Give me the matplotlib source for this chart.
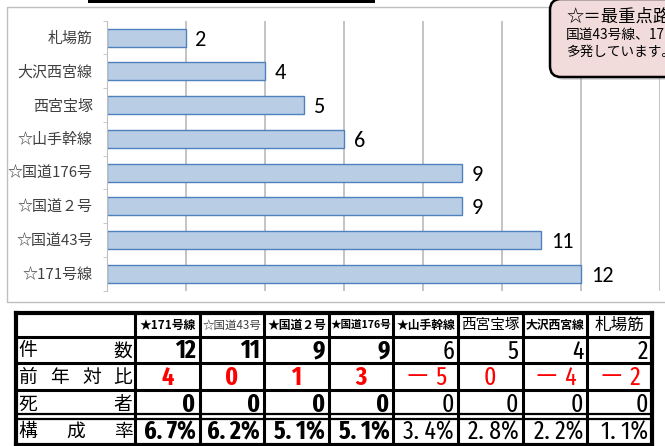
import matplotlib
matplotlib.use('Agg')
import matplotlib.pyplot as plt
from matplotlib.patches import Rectangle, FancyBboxPatch
import numpy as np

plt.rcParams['font.family'] = ['Noto Sans CJK JP', 'DejaVu Sans']

# ---------------- data ----------------
categories = ['☆171号線', '☆国道43号', '☆国道２号', '☆国道176号', '☆山手幹線', '西宮宝塚', '大沢西宮線', '札場筋']
counts = [12, 11, 9, 9, 6, 5, 4, 2]
table_headers = ['★171号線', '☆国道43号', '★国道２号', '★国道176号', '★山手幹線', '西宮宝塚', '大沢西宮線', '札場筋']
yoy_change = [4, 0, 1, 3, -5, 0, -4, -2]
deaths = [0, 0, 0, 0, 0, 0, 0, 0]
share_pct = [6.7, 6.2, 5.1, 5.1, 3.4, 2.8, 2.2, 1.1]
row_labels = ['件数', '前年対比', '死者', '構成率']
note_title = '☆＝最重点路線'
note_lines = ['国道43号線、171号線等で事故が', '多発しています。']
x_gridticks = [0, 2, 4, 6, 8, 10, 12, 14]

W, H = 665, 446
fig = plt.figure(figsize=(W / 100, H / 100), dpi=100)

# ---------------- background (chart frame) ----------------
bg = fig.add_axes([0, 0, 1, 1], zorder=0)
bg.set_xlim(0, W); bg.set_ylim(H, 0); bg.axis('off')
bg.add_patch(Rectangle((7, 6.5), 680, 295.5, facecolor='white', edgecolor='#BFBFBF', lw=1))
bg.add_patch(Rectangle((88, -3), 287, 5.5, facecolor='black', edgecolor='none'))

# ---------------- bar chart ----------------
ax = fig.add_axes([106.7 / W, 1 - 290.7 / H, 553.3 / W, 270 / H], zorder=1)
ax.patch.set_alpha(0)
ypos = np.arange(len(categories))
ax.barh(ypos, counts, height=0.53, color='#B9CDE5', edgecolor='#4F81BD', lw=1, zorder=2)
ax.set_xlim(0, 14)
ax.set_ylim(-0.5, len(categories) - 0.5)
ax.set_xticks(x_gridticks)
ax.xaxis.grid(True, color='#BFBFBF', lw=1.3)
ax.set_axisbelow(True)
ax.tick_params(axis='x', length=0, labelbottom=False)
for s in ['top', 'right', 'bottom']:
    ax.spines[s].set_visible(False)
ax.spines['left'].set_color('#BFBFBF')
ax.set_yticks(ypos)
ax.set_yticklabels(categories, fontsize=10.8, color='#404040')
ax.tick_params(axis='y', which='major', length=0, pad=10)
ax.set_yticks(np.arange(-0.5, len(categories), 1), minor=True)
ax.tick_params(axis='y', which='minor', length=3, color='#BFBFBF', direction='out')
for y, v in zip(ypos, counts):
    ax.annotate(str(v), (v, y), xytext=(7, -1.5), textcoords='offset points',
                va='center', ha='left', fontsize=16, family=['Carlito', 'DejaVu Sans'], color='black')

# ---------------- overlay: callout + table ----------------
ov = fig.add_axes([0, 0, 1, 1], zorder=3)
ov.patch.set_alpha(0)
ov.set_xlim(0, W); ov.set_ylim(H, 0); ov.axis('off')

ov.add_patch(FancyBboxPatch((553, 2), 150, 78, boxstyle='round,pad=0,rounding_size=11',
                            facecolor='#999999', edgecolor='none', alpha=0.35))
ov.add_patch(FancyBboxPatch((550, -1), 150, 78, boxstyle='round,pad=0,rounding_size=11',
                            facecolor='#F2DCDB', edgecolor='black', lw=1.8))
ov.text(566, 17, note_title, fontsize=12.5, va='center', ha='left', color='black')
ov.text(566, 34.5, note_lines[0], fontsize=9.9, va='center', ha='left', color='black')
ov.text(566, 52, note_lines[1], fontsize=9.8, va='center', ha='left', color='black')

# table geometry
tx0, tx1 = 16, 135
colw = 64.6
col_edges = [tx0, tx1] + [tx1 + colw * (i + 1) for i in range(len(table_headers))]
row_edges = [313, 336.5, 363, 390, 416.5, 445]

ov.add_patch(Rectangle((col_edges[0], row_edges[0]), col_edges[-1] - col_edges[0],
                       row_edges[-1] - row_edges[0], facecolor='white', edgecolor='none'))
for x in col_edges:
    lw = 3 if x in (col_edges[0], col_edges[-1]) else 2.2
    ov.plot([x, x], [row_edges[0], row_edges[-1]], color='black', lw=lw, solid_capstyle='projecting')
for i, y in enumerate(row_edges):
    if i == 4:
        ov.plot([col_edges[0], col_edges[-1]], [y - 2.6, y - 2.6], color='black', lw=1.6)
        ov.plot([col_edges[0], col_edges[-1]], [y + 2.2, y + 2.2], color='black', lw=1.6)
    else:
        lw = 3 if i in (0, len(row_edges) - 1) else 2.2
        ov.plot([col_edges[0], col_edges[-1]], [y, y], color='black', lw=lw, solid_capstyle='projecting')

hdr_style = [
    dict(fontsize=8.5, weight='bold', color='black'),
    dict(fontsize=8.3, weight='normal', color='#404040'),
    dict(fontsize=8.5, weight='bold', color='black'),
    dict(fontsize=7.6, weight='bold', color='black'),
    dict(fontsize=8.5, weight='bold', color='black'),
    dict(fontsize=10.5, weight='normal', color='black'),
    dict(fontsize=8.5, weight='bold', color='black'),
    dict(fontsize=12, weight='normal', color='black'),
]
hy = (row_edges[0] + row_edges[1]) / 2
for j, h in enumerate(table_headers):
    cx = (col_edges[j + 1] + col_edges[j + 2]) / 2
    ov.text(cx, hy + 0.5, h, ha='center', va='center', **hdr_style[j])

for r, lab in enumerate(row_labels):
    cy = (row_edges[r + 1] + row_edges[r + 2]) / 2
    n = len(lab)
    left, right = tx0 + 12, tx1 - 12
    for k, ch in enumerate(lab):
        xx = left + (right - left) * k / (n - 1)
        ov.text(xx, cy + 1, ch, ha='center', va='center', fontsize=13.5, color='black')

num_font = ['Fira Sans Extra Condensed', 'Noto Sans CJK JP']

def fmt_change(v):
    if v < 0:
        return '－ ' + str(abs(v))
    return str(v)

rows = [
    ([str(v) for v in counts], 'right', 'black'),
    ([fmt_change(v) for v in yoy_change], 'center', 'red'),
    ([str(v) for v in deaths], 'right', 'black'),
    ([f'{v:.1f}'.replace('.', '. ') + '%' for v in share_pct], 'right', 'black'),
]
for r, (vals, align, color) in enumerate(rows):
    cy = (row_edges[r + 1] + row_edges[r + 2]) / 2
    for j, s in enumerate(vals):
        xl, xr = col_edges[j + 1], col_edges[j + 2]
        xx = xr - 4 if align == 'right' else (xl + xr) / 2
        weight = 'bold' if j < 4 else 'normal'
        ov.text(xx, cy + 1.5, s, ha=align, va='center', fontsize=18.5, family=num_font,
                weight=weight, color=color)

fig.savefig('out.png', dpi=100)
